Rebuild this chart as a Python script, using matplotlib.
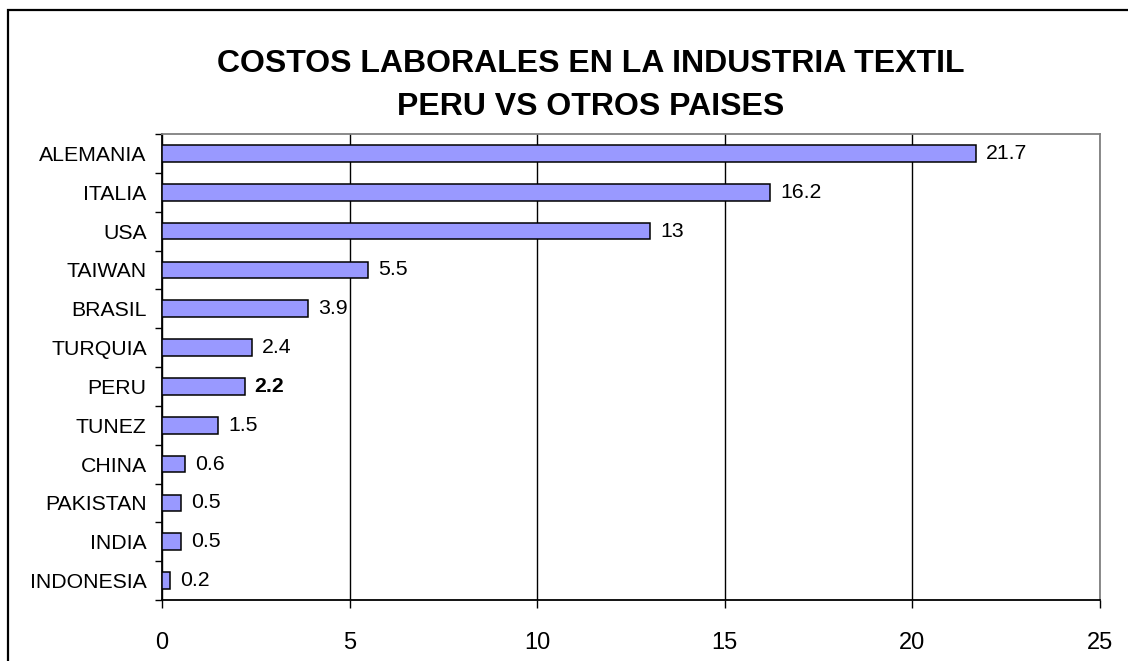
import matplotlib.pyplot as plt
import numpy as np
from matplotlib.patches import Rectangle

plt.rcParams['font.family'] = ['Liberation Sans', 'DejaVu Sans']

paises = ["ALEMANIA", "ITALIA", "USA", "TAIWAN", "BRASIL", "TURQUIA",
          "PERU", "TUNEZ", "CHINA", "PAKISTAN", "INDIA", "INDONESIA"]
costos = [21.7, 16.2, 13, 5.5, 3.9, 2.4, 2.2, 1.5, 0.6, 0.5, 0.5, 0.2]
etiquetas = ["21.7", "16.2", "13", "5.5", "3.9", "2.4", "2.2", "1.5", "0.6", "0.5", "0.5", "0.2"]
xticks = [0, 5, 10, 15, 20, 25]

fig = plt.figure(figsize=(11.28, 6.61), dpi=100)
# marco exterior
fig.patches.append(Rectangle((8/1128, -0.1), 1.2, (661-10)/661 + 0.1,
                             transform=fig.transFigure, fill=False,
                             edgecolor='black', lw=1.6))

ax = fig.add_axes([162/1128, 61/661, 938/1128, 466/661])
y = np.arange(len(paises))
ax.barh(y, costos, height=0.43, color='#9999FF', edgecolor='black', lw=1.1, zorder=3)
ax.set_ylim(len(paises)-0.5, -0.5)
ax.set_xlim(0, 25)

for yi, v, t in zip(y, costos, etiquetas):
    ax.text(v + 0.27, yi, t, va='center', ha='left', fontsize=15.3,
            fontweight='bold' if paises[yi] == "PERU" else 'normal')

ax.set_xticks(xticks)
ax.set_xticklabels([str(x) for x in xticks], fontsize=17)
ax.tick_params(axis='x', direction='out', length=6, width=1, pad=17)
ax.set_yticks(np.arange(len(paises)+1) - 0.5)
ax.set_yticklabels([])
ax.set_yticks(y, minor=True)
ax.set_yticklabels(paises, minor=True, fontsize=15.3)
ax.tick_params(axis='y', which='major', direction='out', length=5, width=1)
ax.tick_params(axis='y', which='minor', length=0, pad=11)

ax.grid(axis='x', color='black', lw=1, zorder=1)
ax.spines['left'].set_color('black')
ax.spines['bottom'].set_color('black')
ax.spines['left'].set_linewidth(1.3)
ax.spines['bottom'].set_linewidth(1.3)
ax.spines['top'].set_color('#808080')
ax.spines['right'].set_color('#808080')
ax.spines['top'].set_linewidth(1.3)
ax.spines['right'].set_linewidth(1.3)

fig.text(591/1128, 1 - 64/661, "COSTOS LABORALES EN LA INDUSTRIA TEXTIL",
         ha='center', va='center', fontsize=23, fontweight='bold')
fig.text(591/1128, 1 - 107/661, "PERU VS OTROS PAISES",
         ha='center', va='center', fontsize=23, fontweight='bold')

fig.savefig("out.png", dpi=100)
